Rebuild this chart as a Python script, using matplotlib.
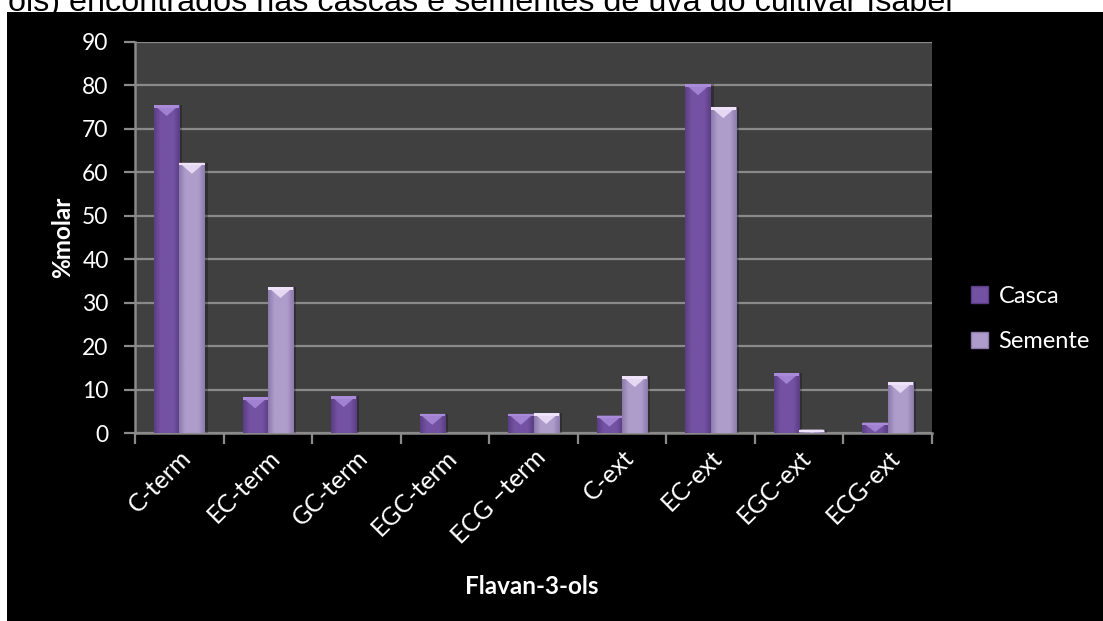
import numpy as np
import matplotlib.pyplot as plt
import matplotlib.transforms as mtransforms
from matplotlib.patches import Rectangle, Polygon, Patch
from matplotlib.colors import LinearSegmentedColormap

categories = ['C-term', 'EC-term', 'GC-term', 'EGC-term', 'ECG \u2013term',
              'C-ext', 'EC-ext', 'EGC-ext', 'ECG-ext']
casca = [75.5, 8.2, 8.5, 4.4, 4.4, 4.0, 80.3, 13.8, 2.4]
semente = [62.2, 33.6, 0.0, 0.0, 4.6, 13.1, 75.0, 0.8, 11.7]
series = [('Casca', casca), ('Semente', semente)]

# edge / centre / bevel colours for each series
styles = {
    'Casca': ('#5a3d84', '#7452a3', '#a98bd9'),
    'Semente': ('#8c7aab', '#ae9dcb', '#eee3fb'),
}

fig = plt.figure(figsize=(11.03, 6.21), dpi=100, facecolor='white')
fig.patches.append(Rectangle((7 / 1103, 0), 1, 1 - 12 / 621,
                             transform=fig.transFigure, facecolor='black',
                             edgecolor='none', zorder=-5))
fig.text(8 / 1103, 1 - 11 / 621,
         'ols) encontrados nas cascas e sementes de uva do cultivar Isabel',
         family='Liberation Sans', fontsize=23.3, color='black', va='baseline',
         zorder=-4)

ax = fig.add_axes([135 / 1103, 1 - 433 / 621, (932 - 135) / 1103, (433 - 42) / 621])
ax.set_facecolor('#404040')
ax.set_ylim(0, 90)
ax.set_xlim(-0.5, len(categories) - 0.5)

x = np.arange(len(categories))
width = 1 / 3.5
grad = np.abs(np.linspace(-1, 1, 64))[None, :]

px_per_unit = ax.get_window_extent().height / 90
bevel = 11 / px_per_unit
shadow = ax.transData + mtransforms.ScaledTranslation(3 / 100, 0, fig.dpi_scale_trans)

for k, (name, vals) in enumerate(series):
    edge, centre, top = styles[name]
    cmap = LinearSegmentedColormap.from_list(name, [centre, centre, edge])
    bars = ax.bar(x + (k - 0.5) * width, vals, width, color=centre,
                  edgecolor='none', zorder=3)
    for b in bars:
        h = b.get_height()
        if h <= 0:
            continue
        x0, w = b.get_x(), b.get_width()
        # soft drop shadow on the right
        ax.add_patch(Rectangle((x0, 0), w, h, transform=shadow,
                               facecolor='black', alpha=0.25,
                               edgecolor='none', zorder=2.9))
        im = ax.imshow(grad, extent=(x0, x0 + w, 0, h), aspect='auto',
                       cmap=cmap, vmin=0, vmax=1, zorder=3.5)
        im.set_clip_path(b)
        d = min(bevel, h * 0.9)
        ax.add_patch(Polygon([(x0, h), (x0 + w, h), (x0 + w / 2, h - d)],
                             closed=True, facecolor=top, edgecolor='none',
                             alpha=0.85, zorder=4))
        ax.add_patch(Rectangle((x0, h - min(d, 0.6)), w, min(d, 0.6),
                               facecolor=top, edgecolor='none', zorder=4))

ax.set_yticks(np.arange(0, 91, 10))
ax.grid(axis='y', color='#8a8a8a', linewidth=1.6, zorder=1)
ax.set_axisbelow(True)

# category boundaries carry the x tick marks
ax.set_xticks(np.arange(-0.5, len(categories), 1))
ax.set_xticklabels([])
ax.set_xticks(x, minor=True)
ax.set_xticklabels(categories, minor=True, rotation=45, ha='right',
                   rotation_mode='anchor', family='Lato', fontsize=18,
                   color='white')
nudge = mtransforms.ScaledTranslation(8 / 100, -3 / 100, fig.dpi_scale_trans)
for lbl in ax.get_xticklabels(minor=True):
    lbl.set_transform(lbl.get_transform() + nudge)
ax.tick_params(axis='x', which='minor', length=0, pad=9)
ax.tick_params(axis='x', which='major', length=8, width=1.6, color='#8a8a8a')
ax.tick_params(axis='y', length=8, width=1.6, color='#8a8a8a',
               labelcolor='white', labelsize=16.5, pad=11)
for lbl in ax.get_yticklabels():
    lbl.set_family('Lato')

for side in ['top', 'right']:
    ax.spines[side].set_visible(False)
for side in ['left', 'bottom']:
    ax.spines[side].set_color('#8a8a8a')
    ax.spines[side].set_linewidth(1.8)

ax.set_ylabel('%molar', family='Lato', fontweight='bold', fontsize=17.5,
              color='white', labelpad=6)
fig.text(532 / 1103, 1 - 586 / 621, 'Flavan-3-ols', family='Lato',
         fontweight='bold', fontsize=17.5, color='white', ha='center',
         va='center')

handles = [Patch(facecolor=styles[n][1], edgecolor=styles[n][0], label=n)
           for n, _ in series]
leg = fig.legend(handles=handles, loc='center left',
                 bbox_to_anchor=(950 / 1103, 1 - 319 / 621), frameon=False,
                 prop={'family': 'Lato', 'size': 17}, labelspacing=1.05,
                 handlelength=0.7, handleheight=0.7, handletextpad=0.45)
for t in leg.get_texts():
    t.set_color('white')

fig.savefig('out.png', dpi=100, facecolor=fig.get_facecolor())
